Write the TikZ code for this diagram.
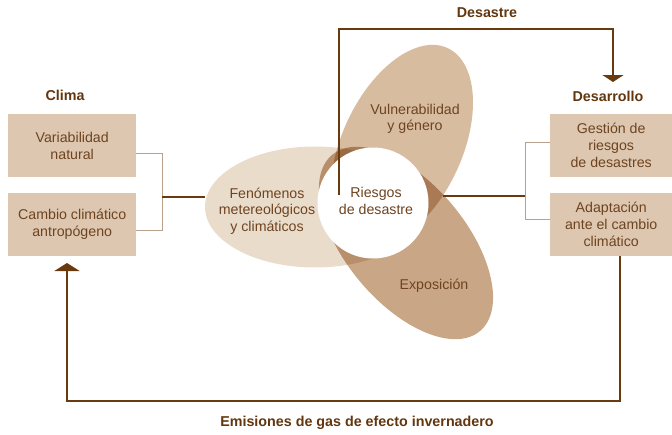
\documentclass[tikz,border=0pt]{standalone}
\usepackage{fontspec}
\setmainfont{Liberation Sans}
\usetikzlibrary{shapes.geometric,arrows.meta}
\definecolor{boxfill}{RGB}{221,199,176}
\definecolor{txt}{RGB}{110,68,32}
\definecolor{head}{RGB}{98,54,14}
\definecolor{thickc}{RGB}{104,58,14}
\definecolor{thinc}{RGB}{184,162,140}
\definecolor{fenc}{RGB}{234,220,203}
\definecolor{vulc}{RGB}{215,188,160}
\definecolor{expc}{RGB}{201,166,134}
\begin{document}
\begin{tikzpicture}[x=1pt,y=-1pt,
  lbox/.style={fill=boxfill, draw=none, minimum width=128pt, minimum height=63pt, inner sep=0pt,
    text=txt, font=\fontsize{14.2}{17}\selectfont, align=center, anchor=north west},
  rbox/.style={lbox, minimum width=122pt},
  ell/.style={ellipse, draw=none, inner sep=0pt},
  etext/.style={text=txt, font=\fontsize{14.2}{16.5}\selectfont, align=center, inner sep=0pt},
  head/.style={text=head, font=\fontsize{14.3}{17}\selectfont\bfseries, inner sep=0pt},
  thickl/.style={draw=thickc, line width=2pt},
  thinl/.style={draw=thinc, line width=0.9pt},
]
\useasboundingbox (0,0) rectangle (672,434);

% left boxes
\node[lbox] (var) at (8,114) {Variabilidad\\natural};
\node[lbox] (cam) at (8,193) {Cambio climático\\antropógeno};
% right boxes
\node[rbox] (ges) at (550,114) {Gestión de\\riesgos\\de desastres};
\node[rbox] (ada) at (550,193) {Adaptación\\ante el cambio\\climático};

% ellipses
\begin{scope}[blend group=multiply]
\node[ell, fill=fenc, minimum width=220pt, minimum height=121pt] (fen) at (315,207) {};
\node[ell, fill=vulc, minimum width=216pt, minimum height=120pt, rotate=65] (vul) at (402,146) {};
\node[ell, fill=expc, minimum width=230pt, minimum height=120pt, rotate=-50] (exp) at (406,243) {};
\end{scope}
\node[circle, fill=white, minimum size=111pt, inner sep=0pt] (rie) at (373,203) {};

% texts in ellipses
\node[etext] (fent) at (267,211) {Fenómenos\\metereológicos\\y climáticos};
\node[etext] (vult) at (415,119) {Vulnerabilidad\\y género};
\node[etext] (expt) at (434,286) {Exposición};
\node[etext] (riet) at (376,201) {Riesgos\\de desastre};

% labels
\node[head] (clima) at (65,95) {Clima};
\node[head] (desa) at (608,96) {Desarrollo};
\node[head] (dest) at (487,13) {Desastre};
\node[head] (emis) at (357,423) {Emisiones de gas de efecto invernadero};

% left connectors
\coordinate (jl) at (162,197);
\draw[thinl] ([yshift=-7.5pt]var.east) -| (jl);
\draw[thinl] ([yshift=-5.5pt]cam.east) -| (jl);
\draw[thickl] (jl) -- (jl -| fen.west);

% right connectors
\coordinate (jr) at (525,196);
\coordinate (xr) at (443,196);
\draw[thinl] ([yshift=3pt]ges.west) -| (jr);
\draw[thinl] ([yshift=5.5pt]ada.west) -| (jr);
\draw[thickl] (xr) -- (jr);

% desastre arrow
\coordinate (ds) at (339,195);
\coordinate (dtip) at (613,82);
\draw[thickl, -{Triangle[width=21pt,length=7pt]}] (ds) -- (339,29) -| (dtip);

% emissions loop
\coordinate (ctip) at (67,263);
\draw[thickl, -{Triangle[width=25pt,length=8pt]}] ([xshift=9pt]ada.south) -- ++(0,145) -| (ctip);
\end{tikzpicture}
\end{document}
